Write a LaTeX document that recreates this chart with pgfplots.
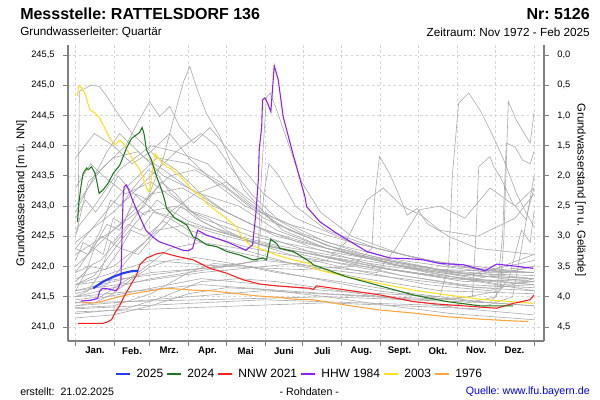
\documentclass[border=0pt]{standalone}
\usepackage{pgfplots}
\pgfplotsset{compat=1.18}
\usepackage{fontspec}
\setmainfont{Liberation Sans}
\frenchspacing
\definecolor{c25}{RGB}{40,60,255}
\definecolor{c24}{RGB}{30,120,30}
\definecolor{cnnw}{RGB}{255,30,30}
\definecolor{chhw}{RGB}{140,30,255}
\definecolor{c03}{RGB}{255,225,30}
\definecolor{c76}{RGB}{255,165,60}
\definecolor{cgr}{RGB}{170,170,170}
\definecolor{cax}{RGB}{128,128,128}
\definecolor{cgrid}{RGB}{215,215,215}
\begin{document}
\begin{tikzpicture}
\useasboundingbox (0,0) rectangle (450pt,300pt);
\begin{axis}[
  at={(51pt,44.25pt)}, anchor=south west,
  scale only axis, width=357pt, height=222pt,
  xmin=-6, xmax=373, ymin=240.768, ymax=245.665,
  axis x line*=bottom, axis y line*=left,
  x axis line style={-, cax, line width=1pt},
  y axis line style={-, cax, line width=1pt},
  tick align=outside, major tick length=3.5pt,
  every tick/.style={cax, line width=0.6pt},
  xtick={0,31,59,90,120,151,181,212,243,273,304,334,365},
  xticklabels={},
  extra x ticks={15.5,45,74.5,105,135.5,166,196.5,227.5,258,288.5,319,349.5},
  extra x tick labels={Jan.,Feb.,Mrz.,Apr.,Mai,Juni,Juli,Aug.,Sept.,Okt.,Nov.,Dez.},
  extra x tick style={major tick length=0pt, grid=none, xticklabel style={font=\bfseries\fontsize{7.2}{8}\selectfont, yshift=-1pt}},
  ytick={241,241.5,...,245.5},
  yticklabel style={font=\fontsize{7}{8}\selectfont, xshift=-3pt},
  /pgf/number format/.cd, fixed, fixed zerofill, precision=1, use comma, 1000 sep={}, assume math mode=true,
  /pgfplots/.cd,
  grid=major, major grid style={cgrid, dash pattern=on 2pt off 2pt, line width=0.5pt},
  clip=true,
  legend style={at={(0.487,-0.111)}, anchor=center, draw=none, fill=none,
    legend columns=6, font=\fontsize{9}{10}\selectfont,
    /tikz/every odd column/.append style={column sep=2pt}},
  legend image code/.code={\draw[#1, line width=1.2pt] (0pt,0pt) -- (11pt,0pt);},
]
% legend entries
\addlegendimage{c25}\addlegendentry{2025}
\addlegendimage{c24}\addlegendentry{2024}
\addlegendimage{cnnw}\addlegendentry{NNW 2021}
\addlegendimage{chhw}\addlegendentry{HHW 1984}
\addlegendimage{c03}\addlegendentry{2003}
\addlegendimage{c76}\addlegendentry{1976}
% gray years
\pgfplotsset{every axis plot/.append style={forget plot}}
\addplot[cgr, line width=0.45pt] coordinates {(0,241.15)(30,241.2)(60,241.35)(90,241.55)(120,241.65)(150,241.62)(200,241.5)(250,241.35)(300,241.22)(365,241.12)};
\addplot[cgr, line width=0.45pt] coordinates {(0,241.22)(40,241.3)(70,241.5)(100,241.75)(130,241.8)(160,241.75)(210,241.6)(260,241.45)(310,241.3)(365,241.2)};
\addplot[cgr, line width=0.45pt] coordinates {(0,241.32)(30,241.35)(60,241.55)(90,241.9)(110,242.05)(140,242.0)(190,241.8)(240,241.6)(300,241.45)(365,241.35)};
\addplot[cgr, line width=0.45pt] coordinates {(0,241.45)(20,241.5)(50,241.9)(75,242.3)(100,242.4)(130,242.3)(180,242.0)(230,241.8)(290,241.6)(365,241.55)};
\addplot[cgr, line width=0.45pt] coordinates {(0,241.55)(25,241.7)(45,242.2)(65,242.6)(90,242.7)(120,242.55)(170,242.2)(220,241.95)(280,241.7)(330,241.6)(365,241.8)};
\addplot[cgr, line width=0.45pt] coordinates {(0,241.7)(15,241.85)(35,242.4)(55,242.9)(80,243.0)(110,242.8)(150,242.5)(200,242.15)(260,241.85)(320,241.65)(365,241.7)};
\addplot[cgr, line width=0.45pt] coordinates {(0,241.9)(20,242.1)(40,242.6)(60,243.2)(85,243.3)(110,243.0)(140,242.7)(190,242.3)(250,241.95)(310,241.75)(365,241.8)};
\addplot[cgr, line width=0.45pt] coordinates {(0,242.0)(25,242.5)(50,243.0)(75,243.5)(95,243.6)(120,243.3)(150,242.8)(200,242.35)(260,242.0)(320,241.8)(365,242.0)};
\addplot[cgr, line width=0.45pt] coordinates {(0,242.3)(20,242.8)(40,243.3)(65,243.8)(90,243.7)(115,243.4)(140,243.0)(170,242.6)(220,242.2)(280,241.9)(340,241.7)(365,241.75)};
\addplot[cgr, line width=0.45pt] coordinates {(0,242.6)(15,243.0)(35,243.6)(60,244.0)(80,243.9)(105,243.7)(130,243.2)(160,242.7)(200,242.35)(250,242.1)(300,241.9)(365,241.85)};
\addplot[cgr, line width=0.45pt] coordinates {(0,241.8)(30,242.0)(55,242.4)(75,242.9)(95,243.2)(120,243.4)(145,243.0)(165,242.6)(200,242.3)(250,242.05)(310,241.85)(365,242.1)};
\addplot[cgr, line width=0.45pt] coordinates {(0,242.5)(10,243.4)(30,243.8)(50,243.9)(70,243.5)(100,243.2)(130,243.0)(160,242.6)(200,242.3)(260,242.0)(320,241.75)(365,241.6)};
\addplot[cgr, line width=0.45pt] coordinates {(0,242.55)(2,242.6)(3,244.9)(8,244.95)(12,245.0)(19,244.98)(24,244.84)(30,244.65)(37,244.43)(45,244.2)(55,244.0)(65,243.8)(80,243.6)(100,243.2)(120,242.9)(150,242.6)(200,242.3)(260,242.05)(320,241.85)(365,241.8)};
\addplot[cgr, line width=0.45pt] coordinates {(0,242.2)(30,242.6)(55,243.0)(70,243.8)(80,244.6)(86,245.06)(91,245.31)(96,244.98)(104,244.54)(115,244.15)(125,243.65)(134,243.27)(150,242.9)(180,242.55)(230,242.2)(290,241.95)(365,241.9)};
\addplot[cgr, line width=0.45pt] coordinates {(0,243.0)(20,243.6)(40,244.0)(50,244.4)(59,244.73)(67,244.48)(75,244.65)(83,244.31)(94,244.04)(107,244.3)(115,244.1)(130,243.7)(150,243.2)(175,242.8)(220,242.4)(280,242.1)(340,241.9)(365,242.0)};
\addplot[cgr, line width=0.45pt] coordinates {(0,243.8)(15,244.2)(30,244.0)(45,243.7)(60,243.9)(75,244.2)(90,243.8)(110,243.4)(135,243.0)(170,242.7)(220,242.4)(280,242.1)(340,241.95)(365,242.0)};
\addplot[cgr, line width=0.45pt] coordinates {(0,241.6)(60,241.9)(120,242.0)(145,242.1)(148,243.5)(152,244.8)(155,244.87)(160,244.6)(170,244.0)(180,243.4)(195,242.9)(220,242.5)(260,242.2)(320,241.95)(365,241.9)};
\addplot[cgr, line width=0.45pt] coordinates {(0,241.5)(60,241.8)(120,242.0)(145,242.1)(150,243.2)(154,243.7)(162,243.5)(175,243.0)(200,242.6)(240,242.3)(300,242.0)(365,241.9)};
\addplot[cgr, line width=0.45pt] coordinates {(0,241.7)(60,242.1)(120,242.0)(180,241.95)(220,242.0)(236,242.3)(238,243.1)(242,243.82)(250,243.54)(258,243.16)(264,242.85)(272,242.96)(280,242.71)(298,242.49)(320,242.3)(365,242.2)};
\addplot[cgr, line width=0.45pt] coordinates {(0,241.4)(100,241.8)(200,241.6)(290,241.5)(297,242.0)(300,243.5)(305,244.7)(313,244.87)(322,244.59)(330,244.26)(335,244.04)(341,243.76)(346,243.49)(351,243.21)(359,242.88)(365,242.66)};
\addplot[cgr, line width=0.45pt] coordinates {(0,241.5)(100,241.7)(200,241.55)(300,241.45)(338,241.6)(341,242.44)(344.6,244.73)(351,244.42)(356.5,244.23)(362,244.04)(365,244.54)};
\addplot[cgr, line width=0.45pt] coordinates {(0,241.35)(150,241.6)(280,241.45)(316,241.5)(319,242.6)(321,243.65)(330,243.82)(333,243.65)(338,243.49)(348,243.05)(359,242.77)(365,243.49)};
\addplot[cgr, line width=0.45pt] coordinates {(0,241.3)(150,241.45)(300,241.35)(335,241.5)(340,242.5)(343,244.04)(350,243.98)(356,243.76)(362,243.7)(365,243.9)};
\addplot[cgr, line width=0.45pt] coordinates {(0,241.6)(100,241.9)(200,242.1)(215,242.4)(232,243.1)(245,243.3)(260,243.0)(275,242.85)(290,242.6)(320,242.5)(350,242.8)(365,243.2)};
\addplot[cgr, line width=0.45pt] coordinates {(0,241.7)(150,242.1)(240,241.9)(255,242.3)(274,242.94)(290,243.0)(310,242.8)(330,243.3)(350,243.0)(365,243.3)};
\addplot[cgr, line width=0.45pt] coordinates {(0,241.25)(200,241.4)(320,241.3)(348,241.5)(355,242.3)(360,242.9)(365,243.3)};
\addplot[cgr, line width=0.45pt] coordinates {(0,241.4)(200,241.5)(330,241.4)(345,241.8)(355,242.6)(362,242.4)(365,242.9)};
\addplot[cgr, line width=0.45pt] coordinates {(0,242.9)(10,243.3)(25,243.9)(35,244.2)(45,244.0)(55,243.8)(70,243.6)(90,243.3)(120,242.9)(160,242.5)(220,242.2)(290,241.95)(365,241.8)};
\addplot[cgr, line width=0.45pt] coordinates {(0,243.3)(12,243.7)(22,243.5)(40,243.2)(60,243.4)(80,243.1)(100,242.8)(140,242.5)(200,242.25)(270,242.0)(340,241.8)(365,241.75)};
\addplot[cgr, line width=0.45pt] coordinates {(0,242.4)(30,242.9)(60,243.5)(80,243.9)(100,244.2)(112,244.0)(125,243.6)(140,243.2)(160,242.8)(200,242.4)(260,242.1)(330,241.9)(365,241.9)};
\addplot[cgr, line width=0.45pt] coordinates {(0,241.6)(8,241.9)(15,242.3)(22,242.2)(30,242.8)(38,242.7)(48,243.2)(58,243.1)(68,243.4)(80,243.2)(92,242.9)(105,242.8)(120,242.6)(140,242.4)(170,242.25)(210,242.05)(260,241.85)(310,241.7)(365,241.65)};
\addplot[cgr, line width=0.45pt] coordinates {(0,242.1)(6,242.4)(14,242.3)(25,242.7)(35,242.6)(45,243.0)(55,242.85)(65,243.1)(78,242.9)(90,242.75)(110,242.6)(135,242.45)(165,242.3)(200,242.15)(250,241.95)(300,241.8)(365,241.7)};
\addplot[cgr, line width=0.45pt] coordinates {(0,241.9)(10,242.2)(20,242.6)(28,243.1)(36,243.0)(46,243.3)(58,243.6)(66,243.5)(76,243.2)(88,243.0)(100,242.75)(120,242.55)(150,242.35)(190,242.2)(240,242.0)(300,241.8)(365,241.75)};
\addplot[cgr, line width=0.45pt] coordinates {(0,242.3)(10,242.2)(20,242.5)(30,242.4)(42,242.7)(52,242.6)(62,242.9)(75,242.8)(90,242.6)(115,242.45)(140,242.3)(180,242.15)(230,242.0)(290,241.85)(365,241.7)};
\addplot[cgr, line width=0.45pt] coordinates {(0,241.5)(10,241.6)(20,241.9)(28,242.4)(36,242.3)(44,242.6)(56,242.5)(70,242.75)(85,242.55)(100,242.4)(125,242.25)(160,242.1)(200,241.95)(260,241.8)(320,241.65)(365,241.6)};
\addplot[cgr, line width=0.45pt] coordinates {(0,242.8)(8,243.1)(16,242.9)(26,243.2)(34,243.5)(42,243.3)(52,243.1)(64,242.9)(80,242.8)(95,242.65)(120,242.5)(150,242.35)(190,242.2)(250,242.0)(310,241.85)(365,241.8)};
\addplot[cgr, line width=0.45pt] coordinates {(0,241.75)(12,242.0)(24,241.95)(36,242.3)(50,242.2)(62,242.5)(72,242.7)(84,243.0)(96,242.8)(110,242.65)(130,242.5)(160,242.35)(200,242.2)(260,242.0)(320,241.85)(365,242.2)};
\addplot[cgr, line width=0.45pt] coordinates {(0,241.35)(15,241.4)(30,241.55)(45,241.8)(60,242.0)(75,242.1)(95,242.15)(125,242.05)(160,241.9)(210,241.75)(270,241.55)(330,241.4)(365,241.35)};
% 1976
\addplot[c76, line width=0.8pt] coordinates {(4.8,241.40)(16.7,241.40)(27.3,241.46)(40.6,241.53)(53.8,241.58)(72.5,241.64)(93.7,241.61)(107,241.60)(120.3,241.57)(146.8,241.51)(162.7,241.49)(173.3,241.46)(189.2,241.45)(215.8,241.36)(242.4,241.28)(268.9,241.23)(295.5,241.17)(322,241.13)(348.5,241.10)(360.5,241.09)};
% 2003
\addplot[c03, line width=0.8pt] coordinates {(1.3,244.82)(2.6,244.99)(5,244.95)(7.4,244.87)(11.4,244.59)(15.4,244.54)(19.4,244.45)(23.3,244.29)(27.3,244.12)(31.3,244.01)(35.3,244.09)(37.9,244.04)(41.9,243.90)(45.9,243.76)(51.2,243.60)(55.2,243.38)(57.9,243.24)(59.5,243.30)(60.5,243.49)(63.2,243.87)(67.1,243.76)(72.5,243.65)(76,243.62)(80.4,243.54)(84,243.48)(88.4,243.38)(92.4,243.27)(96,243.22)(100.4,243.16)(104,243.05)(114.9,242.88)(121,242.78)(128.2,242.66)(132.2,242.49)(138.8,242.36)(146.8,242.30)(160.1,242.19)(173.3,242.11)(186.6,242.05)(189.2,241.97)(215.8,241.83)(242.4,241.72)(268.9,241.61)(295.5,241.53)(322,241.46)(345.9,241.42)(364.5,241.39)};
% HHW 1984
\addplot[chhw, line width=0.8pt] coordinates {(4.2,241.43)(12,241.44)(17.5,241.47)(19.4,241.60)(21.5,241.64)(26,241.63)(32.1,241.60)(34.5,241.66)(36.1,241.75)(37,242.5)(37.9,243.16)(38.7,243.32)(40.6,243.35)(43.2,243.22)(45.4,243.10)(48.6,242.94)(56,242.60)(62,242.48)(66.6,242.41)(77.7,242.33)(85.2,242.27)(89.7,242.26)(93.2,242.30)(97.2,242.60)(104.3,242.52)(120.3,242.41)(135.6,242.27)(141,242.36)(143.6,242.88)(145.5,243.43)(146.3,243.95)(148.2,244.3)(148.9,244.76)(150.8,244.79)(153,244.7)(155.5,244.56)(158.2,245.32)(161.4,245.09)(165.3,244.48)(173.3,243.85)(177.3,243.55)(182.6,243.16)(184,242.99)(194.6,242.74)(207.9,242.55)(231.8,242.25)(250.3,242.14)(265,242.13)(276.8,242.11)(290.1,242.05)(308.7,242.03)(326,241.93)(335.3,242.04)(348.5,242.01)(364.5,241.97)};
% NNW 2021
\addplot[cnnw, line width=0.8pt] coordinates {(2.1,241.06)(22,241.06)(25,241.08)(28.7,241.12)(31.3,241.23)(35.3,241.36)(39.3,241.53)(44.6,241.72)(48.6,241.86)(51.2,242.03)(56.5,242.14)(64.5,242.21)(69.8,242.23)(75,242.20)(80.4,242.17)(93.7,242.11)(107,241.97)(120.3,241.89)(133.5,241.78)(146.8,241.71)(160.1,241.68)(173.3,241.66)(186.6,241.64)(189.2,241.62)(191.9,241.68)(215.8,241.61)(242.4,241.53)(268.9,241.42)(287.5,241.38)(308.7,241.35)(335.3,241.31)(348.5,241.39)(361.8,241.45)(365,241.53)};
% 2024
\addplot[c24, line width=0.8pt] coordinates {(1.6,242.74)(2.6,243.05)(4.5,243.35)(6,243.54)(8.8,243.63)(10,243.6)(12.7,243.65)(15.4,243.55)(17,243.40)(18.8,243.21)(22,243.27)(26,243.38)(30,243.54)(35.3,243.68)(40.6,243.96)(44.6,244.12)(48.6,244.18)(51,244.22)(53,244.30)(54.5,244.20)(56.5,243.93)(60.5,243.76)(64.5,243.49)(68.5,243.27)(71,243.10)(72.5,242.96)(79.1,242.80)(88.4,242.69)(93.7,242.49)(96.4,242.47)(104.3,242.36)(112.3,242.33)(120.3,242.25)(130.9,242.19)(141.5,242.11)(149.4,242.14)(152.1,242.11)(155.3,242.45)(160.1,242.38)(162.7,242.30)(173.3,242.25)(186.6,242.08)(189.2,242.03)(215.8,241.83)(242.4,241.68)(268.9,241.53)(295.5,241.42)(322,241.35)(348.5,241.35)};
% 2025
\addplot[c25, line width=1.6pt] coordinates {(14,241.64)(22,241.75)(30,241.83)(37.9,241.89)(44,241.92)(49.9,241.93)};
\end{axis}
% right axis
\begin{axis}[
  at={(51pt,44.25pt)}, anchor=south west,
  scale only axis, width=357pt, height=222pt,
  xmin=-6, xmax=373, ymin=-0.165, ymax=4.732, y dir=reverse,
  axis x line=none, axis y line*=right,
  y axis line style={-, cax, line width=1pt},
  tick align=outside, major tick length=3.5pt,
  every tick/.style={cax, line width=0.6pt},
  ytick={0,0.5,...,4.5},
  yticklabel style={font=\fontsize{7}{8}\selectfont, xshift=3pt},
  /pgf/number format/.cd, fixed, fixed zerofill, precision=1, use comma, assume math mode=true,
]
\addplot[draw=none, forget plot] coordinates {(0,0)(1,1)};
\end{axis}
% texts
\node[anchor=west, inner sep=0pt, font=\bfseries\fontsize{12}{14}\selectfont] at (15pt,289.5pt) {Messstelle: RATTELSDORF 136};
\node[anchor=east, inner sep=0pt, font=\bfseries\fontsize{12}{14}\selectfont] at (442.5pt,289.5pt) {Nr: 5126};
\node[anchor=west, inner sep=0pt, font=\fontsize{8.8}{10}\selectfont] at (15pt,275.5pt) {Grundwasserleiter: Quartär};
\node[anchor=east, inner sep=0pt, font=\fontsize{8.8}{10}\selectfont] at (442.5pt,275.5pt) {Zeitraum: Nov 1972 - Feb 2025};
\node[rotate=90, inner sep=0pt, font=\fontsize{8.5}{10}\selectfont] at (16pt,155pt) {Grundwasserstand [m ü. NN]};
\node[rotate=-90, inner sep=0pt, font=\fontsize{8.5}{10}\selectfont] at (435.5pt,157.5pt) {Grundwasserstand [m u. Gelände]};
\node[anchor=west, inner sep=0pt, font=\fontsize{8}{10}\selectfont] at (15pt,6pt) {erstellt:\ \ 21.02.2025};
\node[inner sep=0pt, font=\fontsize{8}{10}\selectfont] at (232pt,6pt) {- Rohdaten -};
\node[anchor=east, inner sep=0pt, font=\fontsize{8}{10}\selectfont, text=blue] at (442.5pt,6pt) {Quelle: www.lfu.bayern.de};
\end{tikzpicture}
\end{document}
